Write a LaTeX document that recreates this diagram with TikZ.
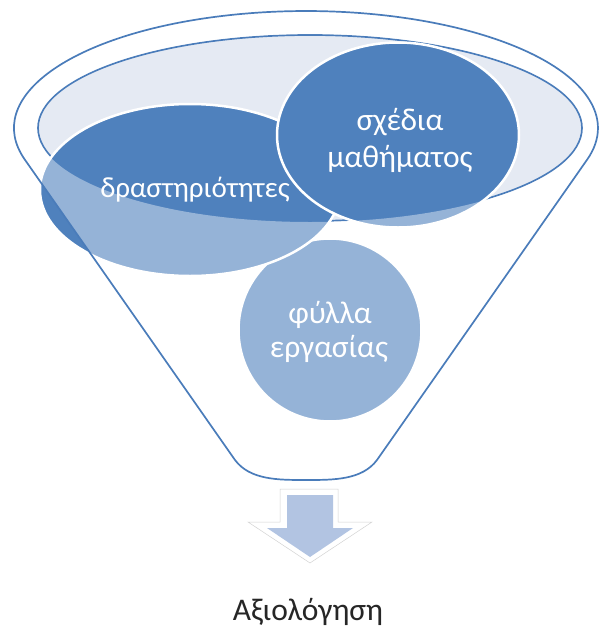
\documentclass[tikz,border=0pt]{standalone}
\usepackage{fontspec}
\setmainfont{Carlito}
\usetikzlibrary{shapes.geometric}
\definecolor{accent}{RGB}{79,129,189}
\definecolor{funline}{RGB}{74,124,186}
\definecolor{mouthfill}{RGB}{229,234,243}
\definecolor{arrowfill}{RGB}{178,196,226}
\tikzset{
  blob/.style={ellipse, fill=accent, draw=white, line width=2.5pt, inner sep=0pt},
  blobtext/.style={text=white, anchor=base, inner sep=0pt, font=\fontsize{31.5}{37}\selectfont},
  funnelline/.style={draw=funline, line width=1.7pt},
}
\def\funnelshape{(24.9,159.7) arc[start angle=195.7, end angle=-15.7, x radius=292pt, y radius=117pt]
  -- (377,460) .. controls (362,480) and (334,480) .. (306,480)
  .. controls (278,480) and (250,480) .. (235,460) -- cycle}
\begin{document}
\begin{tikzpicture}[x=1pt,y=-1pt]
\useasboundingbox (0,0) rectangle (598,627);
% funnel mouth
\draw[funnelline, fill=mouthfill] (310,128) ellipse [x radius=272pt, y radius=93pt];
% items
\node[blob, minimum width=183pt, minimum height=183pt] (sheets) at (330,330) {};
\node[blob, minimum width=300pt, minimum height=172pt] (acts) at (190,190) {};
\node[blob, minimum width=242pt, minimum height=185pt] (plans) at (398,135) {};
% translucent funnel body
\fill[white, fill opacity=0.4, even odd rule] \funnelshape (310,128) ellipse [x radius=273pt, y radius=94pt];
% funnel outline
\draw[funnelline] \funnelshape;
% labels
\node[blobtext, font=\fontsize{29}{36}\selectfont] (actsT) at (195,197) {δραστηριότητες};
\node[blobtext] (plansA) at (400,130) {σχέδια};
\node[blobtext] (plansB) at (400,167) {μαθήματος};
\node[blobtext] (sheetsA) at (330,323) {φύλλα};
\node[blobtext] (sheetsB) at (329,357) {εργασίας};
% arrow
\draw[draw=gray!35, line width=0.5pt, fill=white] (280,489) -- (338,489) -- (338,522) -- (372,522) -- (310,563) -- (248,522) -- (280,522) -- cycle;
\fill[arrowfill] (287,495) -- (333,495) -- (333,528) -- (353,528) -- (310,557) -- (267,528) -- (287,528) -- cycle;
\node[font=\fontsize{31.5}{37}\selectfont, text=black!85, anchor=base, inner sep=0pt] (eval) at (308,620) {Αξιολόγηση};
\end{tikzpicture}
\end{document}
